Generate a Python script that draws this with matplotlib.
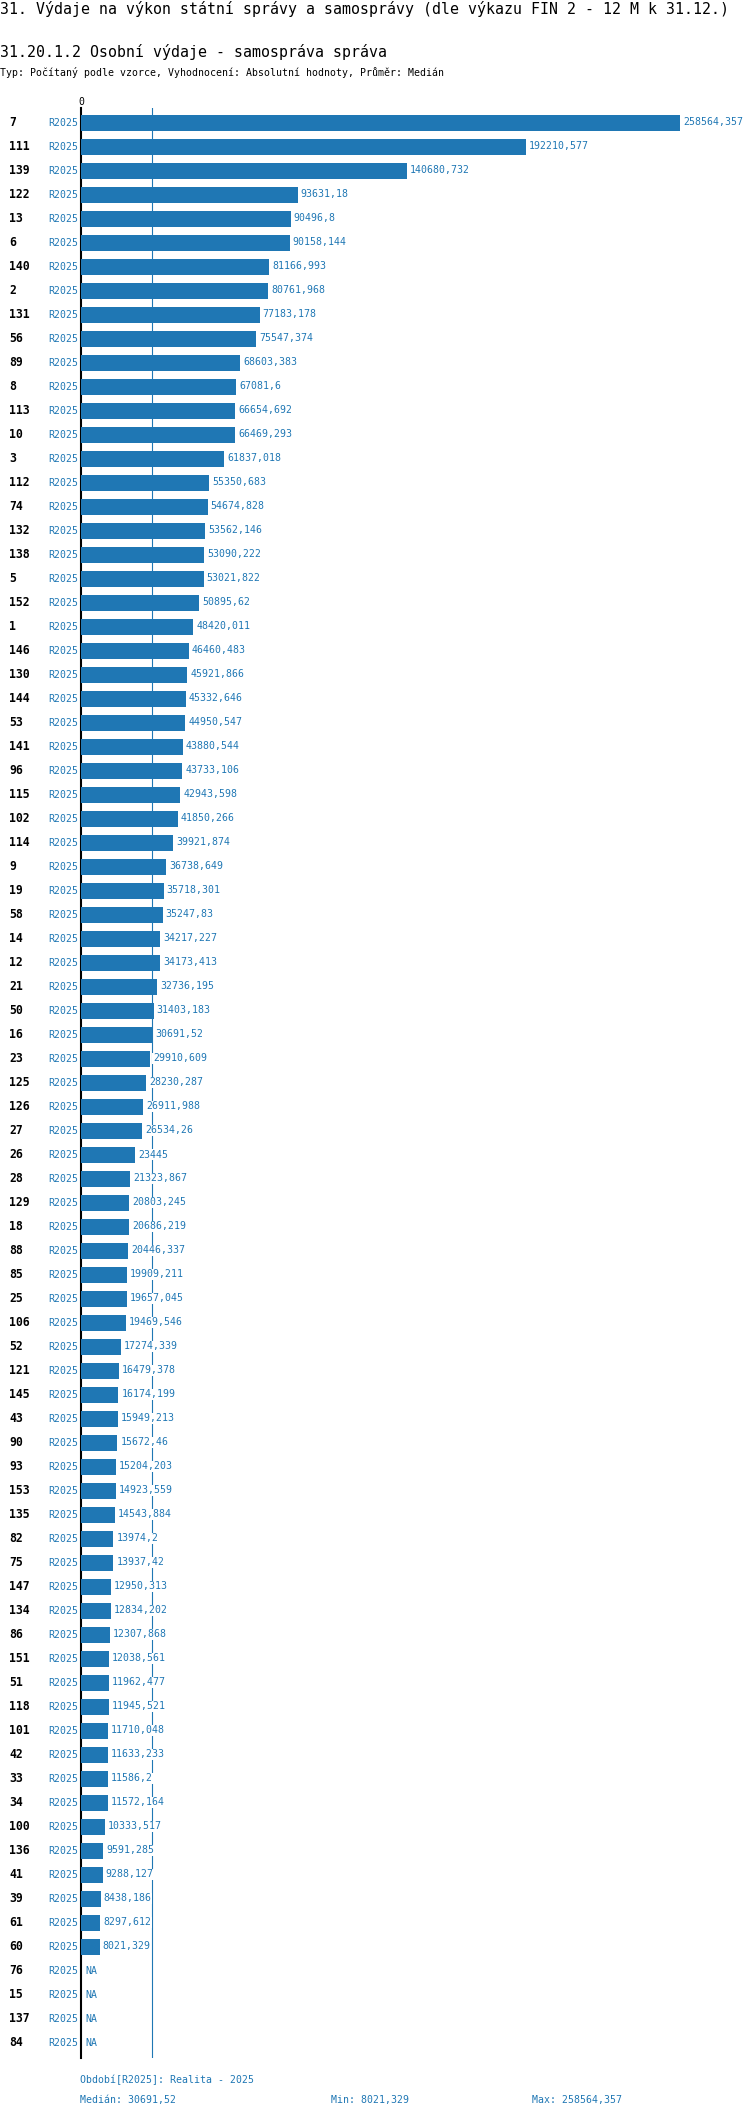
import numpy as np
import matplotlib
matplotlib.use("Agg")
import matplotlib.pyplot as plt
import matplotlib.transforms as mtransforms

# data
units = ['7', '111', '139', '122', '13', '6', '140', '2', '131', '56', '89', '8', '113', '10', '3',
         '112', '74', '132', '138', '5', '152', '1', '146', '130', '144', '53', '141', '96', '115',
         '102', '114', '9', '19', '58', '14', '12', '21', '50', '16', '23', '125', '126', '27', '26',
         '28', '129', '18', '88', '85', '25', '106', '52', '121', '145', '43', '90', '93', '153',
         '135', '82', '75', '147', '134', '86', '151', '51', '118', '101', '42', '33', '34', '100',
         '136', '41', '39', '61', '60', '76', '15', '137', '84']
values = [258564.357, 192210.577, 140680.732, 93631.18, 90496.8, 90158.144, 81166.993, 80761.968,
          77183.178, 75547.374, 68603.383, 67081.6, 66654.692, 66469.293, 61837.018, 55350.683,
          54674.828, 53562.146, 53090.222, 53021.822, 50895.62, 48420.011, 46460.483, 45921.866,
          45332.646, 44950.547, 43880.544, 43733.106, 42943.598, 41850.266, 39921.874, 36738.649,
          35718.301, 35247.83, 34217.227, 34173.413, 32736.195, 31403.183, 30691.52, 29910.609,
          28230.287, 26911.988, 26534.26, 23445, 21323.867, 20803.245, 20686.219, 20446.337,
          19909.211, 19657.045, 19469.546, 17274.339, 16479.378, 16174.199, 15949.213, 15672.46,
          15204.203, 14923.559, 14543.884, 13974.2, 13937.42, 12950.313, 12834.202, 12307.868,
          12038.561, 11962.477, 11945.521, 11710.048, 11633.233, 11586.2, 11572.164, 10333.517,
          9591.285, 9288.127, 8438.186, 8297.612, 8021.329, np.nan, np.nan, np.nan, np.nan]
period = 'R2025'

title = '31. Výdaje na výkon státní správy a samosprávy (dle výkazu FIN 2 - 12 M k 31.12.)'
subtitle = '31.20.1.2 Osobní výdaje - samospráva správa'
info = 'Typ: Počítaný podle vzorce, Vyhodnocení: Absolutní hodnoty, Průměr: Medián'
period_note = 'Období[R2025]: Realita - 2025'

blue = '#1f77b4'
mono = 'DejaVu Sans Mono'
W, H = 750, 2118


def fmt(v):
    s = f"{v:.3f}".rstrip('0').rstrip('.')
    return s.replace('.', ',')


def fx(px):
    return px / W


def fy(py):
    return 1 - py / H


vals = np.array(values, dtype=float)
med = np.nanmedian(vals)
vmin = np.nanmin(vals)
vmax = np.nanmax(vals)
n = len(units)
ypos = np.arange(n)

fig = plt.figure(figsize=(W / 100, H / 100), dpi=100)
fig.patch.set_facecolor('white')

# axes: left edge 81px, top 108px, bottom 2058px
left, top, bottom = 81, 108, 2058
ax = fig.add_axes([fx(left), fy(bottom), fx(W - left), (bottom - top) / H])
px_per_unit = 0.002316
ax.set_xlim(0, (W - left) / px_per_unit)
row0 = 122.5
ax.set_ylim(n - 1 + (bottom - (row0 + 24 * (n - 1))) / 24, -(row0 - top) / 24)

ok = ~np.isnan(vals)
ax.barh(ypos[ok], vals[ok], height=16 / 24, color=blue, zorder=3)
ax.axvline(med, color=blue, lw=0.8, zorder=1)

for i in range(n):
    if ok[i]:
        ax.annotate(fmt(vals[i]), (vals[i], i), xytext=(3, 0), textcoords='offset pixels',
                    va='center', ha='left', fontsize=7.1, family=mono, color=blue, zorder=2,
                    bbox=dict(facecolor='white', edgecolor='none', pad=0.6))
    else:
        ax.annotate('NA', (0, i), xytext=(4, 0), textcoords='offset pixels',
                    va='center', ha='left', fontsize=7.1, family=mono, color=blue, zorder=2)

trans = mtransforms.blended_transform_factory(fig.transFigure, ax.transData)
for i, u in enumerate(units):
    ax.text(fx(9), i, u, transform=trans, va='center', ha='left', fontsize=8.3,
            family=mono, fontweight='bold', color='black', clip_on=False)
    ax.text(fx(78), i, period, transform=trans, va='center', ha='right', fontsize=7.1,
            family=mono, color=blue, clip_on=False)

for s in ['top', 'right', 'bottom']:
    ax.spines[s].set_visible(False)
ax.spines['left'].set_linewidth(1.5)
ax.spines['left'].set_color('black')
ax.set_xticks([])
ax.set_yticks([])

fig.text(fx(81), fy(102), '0', ha='center', va='center', fontsize=7.1, family=mono)

fig.text(0, fy(9), title, ha='left', va='center', fontsize=10.7, family=mono)
fig.text(0, fy(52), subtitle, ha='left', va='center', fontsize=10.7, family=mono)
fig.text(0, fy(73), info, ha='left', va='center', fontsize=7.1, family=mono)

fig.text(fx(80), fy(2080), period_note, ha='left', va='center', fontsize=7.1,
         family=mono, color=blue)
fig.text(fx(80), fy(2100), 'Medián: ' + fmt(med), ha='left', va='center', fontsize=7.1,
         family=mono, color=blue)
fig.text(fx(331), fy(2100), 'Min: ' + fmt(vmin), ha='left', va='center', fontsize=7.1,
         family=mono, color=blue)
fig.text(fx(532), fy(2100), 'Max: ' + fmt(vmax), ha='left', va='center', fontsize=7.1,
         family=mono, color=blue)

fig.savefig('out.png', dpi=100, facecolor='white')
